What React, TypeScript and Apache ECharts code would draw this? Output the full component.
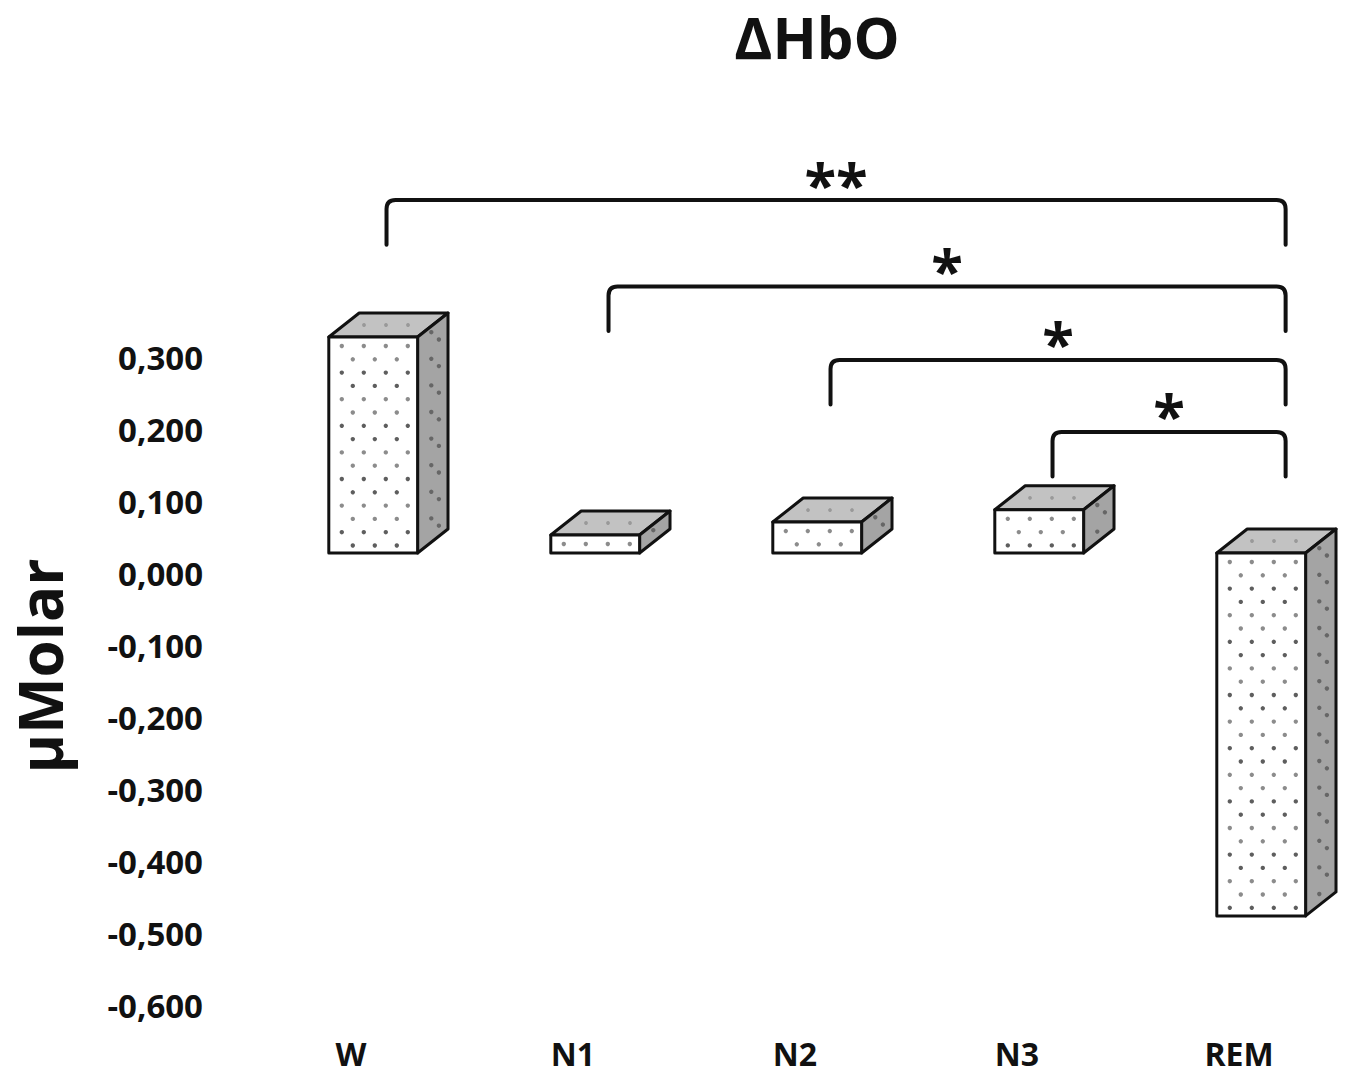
import React, { useEffect, useRef } from "react";
import * as echarts from "echarts";

// ---- data ----
const categories = ["W", "N1", "N2", "N3", "REM"];
const values = [0.3, 0.025, 0.043, 0.06, -0.504];
const bracketFrom = [0, 1, 2, 3];
const bracketTo = [4, 4, 4, 4];
const bracketLevel = [0.518, 0.398, 0.296, 0.196];
const bracketMarks = ["**", "*", "*", "*"];
const yMin = -0.6;
const yMax = 0.6;
const yStep = 0.1;
const yLabelMax = 0.3;

const FONT = "'Open Sans', 'Noto Sans', sans-serif";
const LIFT = 20; // 3D front face sits above the back-wall zero
const DROP = 0.062;

function fmt(v: number): string {
  if (v > yLabelMax + 0.001) return "";
  let s = Math.abs(v) < 1e-9 ? "0.000" : v.toFixed(3);
  return s.replace(".", ",");
}

function renderBar(params: any, api: any) {
  const i = api.value(0);
  const v = api.value(1);
  const p = api.coord([i, v]);
  const p0 = api.coord([i, 0]);
  const band = api.size([1, 0])[0];
  const w = band * 0.4;
  const cx = p[0] + band * 0.1;
  const xL = cx - w / 2;
  const xR = cx + w / 2;
  const yTop = Math.min(p[1], p0[1]) - LIFT;
  const yBot = Math.max(p[1], p0[1]) - LIFT;
  const dx = band * 0.137;
  const dy = -24;
  const outline = { stroke: "#111", lineWidth: 3, lineJoin: "round" };
  const children: any[] = [];
  // top face
  children.push({
    type: "polygon",
    shape: { points: [[xL, yTop], [xR, yTop], [xR + dx, yTop + dy], [xL + dx, yTop + dy]] },
    style: { fill: "#c2c2c2", ...outline },
  });
  // side face
  children.push({
    type: "polygon",
    shape: { points: [[xR, yTop], [xR + dx, yTop + dy], [xR + dx, yBot + dy], [xR, yBot]] },
    style: { fill: "#a4a4a4", ...outline },
  });
  // front face
  children.push({
    type: "rect",
    shape: { x: xL, y: yTop, width: w, height: yBot - yTop },
    style: { fill: "#ffffff", ...outline },
  });
  // front dots
  const rowGap = 13.3;
  const colGap = 22;
  let row = 0;
  for (let y = yTop + 9; y < yBot - 2; y += rowGap, row++) {
    const off = row % 2 === 0 ? 13 : 24;
    for (let x = xL + off; x < xR - 6; x += colGap) {
      children.push({
        type: "circle",
        shape: { cx: x, cy: y, r: 2.2 },
        style: { fill: row % 4 < 2 ? "#8c8c8c" : "#5e5e5e" },
        silent: true,
      });
    }
  }
  // side dots
  let k = 0;
  for (let y = yTop + 6; y < yBot - 4; y += rowGap, k++) {
    const t = k % 2 === 0 ? 0.45 : 0.7;
    children.push({
      type: "circle",
      shape: { cx: xR + dx * t, cy: y + dy * t, r: 2.2 },
      style: { fill: "#666666" },
      silent: true,
    });
  }
  // top dots
  for (let x = xL + dx * 0.5 + 20; x < xR + dx * 0.5 - 10; x += colGap) {
    children.push({
      type: "circle",
      shape: { cx: x, cy: yTop + dy * 0.5, r: 1.9 },
      style: { fill: "#999999" },
      silent: true,
    });
  }
  return { type: "group", children };
}

function renderBracket(params: any, api: any) {
  const idx = params.dataIndex;
  const lvl = api.value(2);
  const a = api.coord([api.value(0), lvl]);
  const b = api.coord([api.value(1), lvl]);
  const low = api.coord([api.value(0), lvl - DROP]);
  const band = api.size([1, 0])[0];
  const x1 = a[0] + band * 0.16;
  const x2 = b[0] + band * 0.21;
  const y = a[1];
  const yl = low[1];
  const r = 9;
  const d = `M${x1} ${yl} L${x1} ${y + r} Q${x1} ${y} ${x1 + r} ${y} L${x2 - r} ${y} Q${x2} ${y} ${x2} ${y + r} L${x2} ${yl}`;
  return {
    type: "group",
    children: [
      {
        type: "path",
        shape: { pathData: d },
        style: { fill: "none", stroke: "#111", lineWidth: 4, lineCap: "round", lineJoin: "round" },
      },
      {
        type: "text",
        style: {
          text: bracketMarks[idx],
          x: (x1 + x2) / 2,
          y: y - 17,
          align: "center",
          verticalAlign: "middle",
          font: `bold 58px ${FONT}`,
          fill: "#111",
        },
      },
    ],
  };
}

export default function App() {
  const ref = useRef<HTMLDivElement>(null);
  useEffect(() => {
    if (!ref.current) return;
    const chart = echarts.init(ref.current, null, { renderer: "svg" });
    const barData = values.map((v, i) => [i, v]);
    const bracketData = bracketFrom.map((f, i) => [f, bracketTo[i], bracketLevel[i]]);
    chart.setOption({
      animation: false,
      backgroundColor: "#ffffff",
      grid: { left: 240, right: 0, top: 141, bottom: 70 },
      xAxis: {
        type: "category",
        data: categories,
        axisLine: { show: false },
        axisTick: { show: false },
        splitLine: { show: false },
        axisLabel: {
          margin: 31,
          fontSize: 32,
          lineHeight: 34,
          fontWeight: "bold",
          fontFamily: FONT,
          color: "#111",
        },
      },
      yAxis: {
        type: "value",
        min: yMin,
        max: yMax,
        interval: yStep,
        axisLine: { show: false },
        axisTick: { show: false },
        splitLine: { show: false },
        axisLabel: {
          margin: 37,
          fontSize: 33,
          fontWeight: "bold",
          fontFamily: FONT,
          color: "#111",
          formatter: (v: number) => fmt(v),
        },
      },
      graphic: [
        {
          type: "text",
          x: 817,
          y: 36,
          style: {
            text: "ΔHbO",
            align: "center",
            verticalAlign: "middle",
            font: `bold 58px ${FONT}`,
            fill: "#111",
          },
        },
        {
          type: "text",
          x: 40,
          y: 666,
          rotation: Math.PI / 2,
          style: {
            text: "µMolar",
            align: "center",
            verticalAlign: "middle",
            font: `bold 60px ${FONT}`,
            fill: "#111",
          },
        },
      ],
      series: [
        {
          type: "custom",
          name: "ΔHbO",
          data: barData,
          encode: { x: 0, y: 1 },
          renderItem: renderBar,
          clip: false,
        },
        {
          type: "custom",
          name: "significance",
          data: bracketData,
          encode: { x: 0, y: 2 },
          renderItem: renderBracket,
          clip: false,
        },
      ],
    });
    return () => chart.dispose();
  }, []);
  return (
    <div
      ref={ref}
      style={{ position: "fixed", left: 0, top: 0, width: 1350, height: 1075 }}
    />
  );
}
